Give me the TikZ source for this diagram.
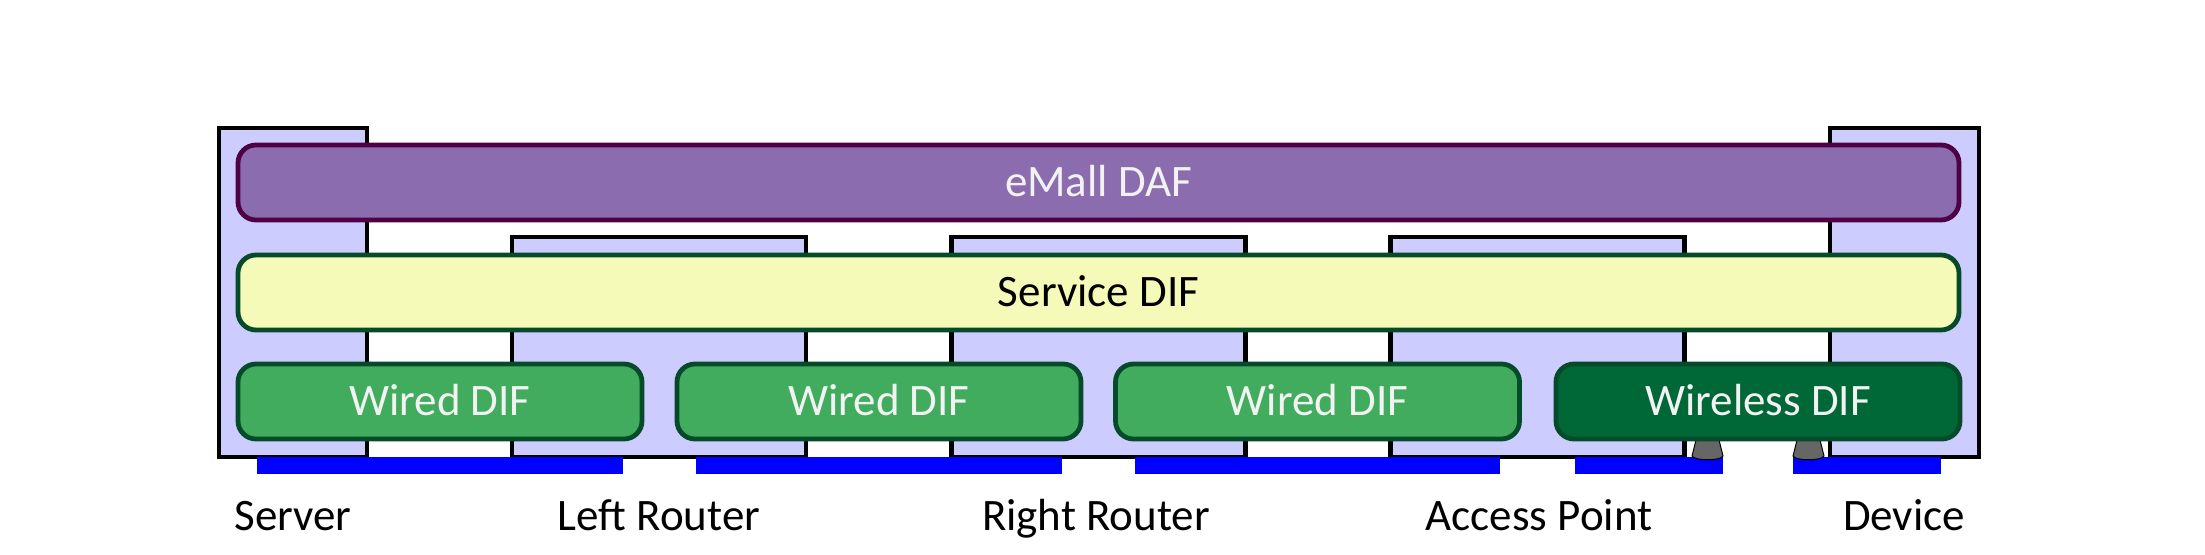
\documentclass[tikz,border=0pt]{standalone}
\usepackage{fontspec}
\setmainfont{Carlito}
\definecolor{lav}{RGB}{204,204,255}
\definecolor{dafFill}{RGB}{139,108,175}
\definecolor{dafLine}{RGB}{78,0,68}
\definecolor{svcFill}{RGB}{245,250,185}
\definecolor{difLine}{RGB}{5,75,42}
\definecolor{wiredFill}{RGB}{66,172,94}
\definecolor{wlFill}{RGB}{0,104,55}
\definecolor{txtWhite}{RGB}{242,242,242}
\definecolor{antGray}{RGB}{102,102,102}
\begin{document}
\begin{tikzpicture}[x=0.5pt,y=-0.5pt,
  every node/.style={font=\fontsize{22.5}{27}\selectfont},
  sysbox/.style={draw=black, fill=lav, line width=2.2pt, inner sep=0pt, line join=miter},
  layer/.style={rounded corners=9pt, line width=2.4pt, inner sep=0pt, minimum height=37.5pt, text height=14.2pt, text depth=0pt},
  daf/.style={layer, fill=dafFill, draw=dafLine, text=txtWhite, minimum width=860.5pt},
  svc/.style={layer, fill=svcFill, draw=difLine, text=black, minimum width=860.5pt},
  wired/.style={layer, fill=wiredFill, draw=difLine, text=txtWhite, minimum width=202pt},
  wless/.style={layer, fill=wlFill, draw=difLine, text=txtWhite, minimum width=202pt},
  bar/.style={fill=blue, draw=none},
  ant/.style={fill=antGray, draw=black, line width=0.5pt},
  lbl/.style={anchor=base, text=black}]
\useasboundingbox (0,0) rectangle (2205,555);
% system boxes
\node[sysbox, minimum width=74pt, minimum height=164.5pt] (server) at (293,292.5) {};
\node[sysbox, minimum width=74.5pt, minimum height=164.5pt] (device) at (1904.5,292.5) {};
\node[sysbox, minimum width=147pt, minimum height=110pt] (lr) at (659,347) {};
\node[sysbox, minimum width=147pt, minimum height=110pt] (rr) at (1098.5,347) {};
\node[sysbox, minimum width=147pt, minimum height=110pt] (ap) at (1537.5,347) {};
% blue links
\path[bar] (257,457) rectangle (623,474);
\path[bar] (696,457) rectangle (1062,474);
\path[bar] (1135,457) rectangle (1500,474);
\path[bar] (1575,457) rectangle (1723,474);
\path[bar] (1793,457) rectangle (1941,474);
% antennas
\draw[ant] (1696,440) -- (1719,440) -- (1723,456) .. controls (1721,461) and (1694,461) .. (1692,456) -- cycle;
\draw[ant] (1797,440) -- (1820,440) -- (1824,456) .. controls (1822,461) and (1795,461) .. (1793,456) -- cycle;
% layers
\node[daf] (emall) at (1098.5,182.5) {eMall DAF};
\node[svc] (service) at (1098.5,292.5) {Service DIF};
\node[wired] (w1) at (440,401.5) {Wired DIF};
\node[wired] (w2) at (879,401.5) {Wired DIF};
\node[wired] (w3) at (1317.5,401.5) {Wired DIF};
\node[wless] (wl) at (1758,401.5) {Wireless DIF};
% labels
\node[lbl] (lserver) at (293,530) {Server};
\node[lbl] (llr) at (659,530) {Left Router};
\node[lbl] (lrr) at (1096,530) {Right Router};
\node[lbl] (lap) at (1539,530) {Access Point};
\node[lbl] (ldev) at (1904,530) {Device};
\end{tikzpicture}
\end{document}
